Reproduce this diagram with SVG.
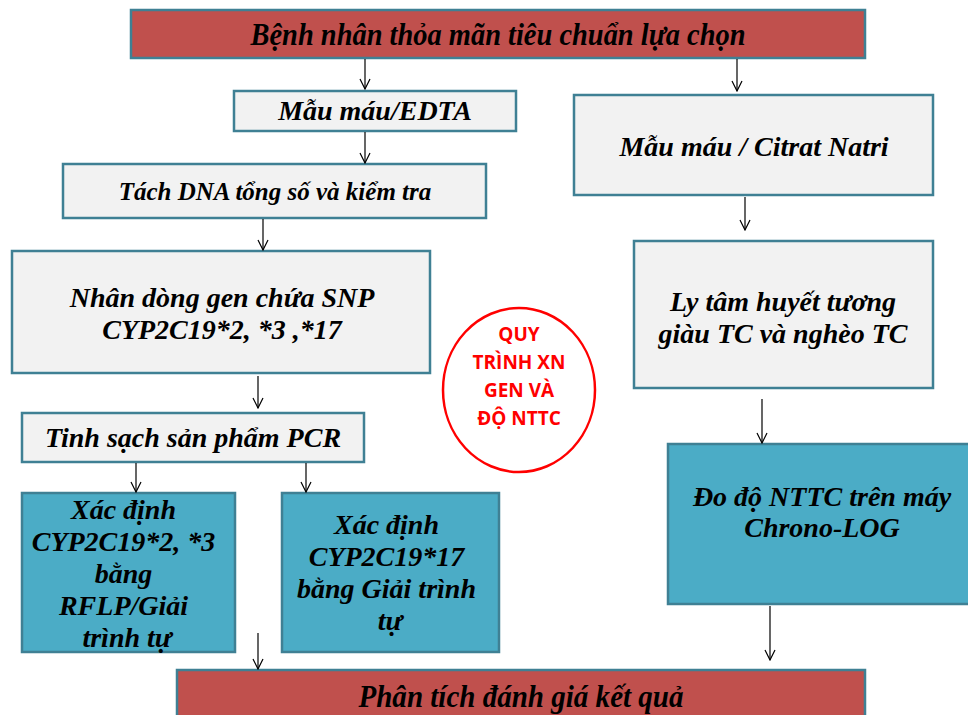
<svg xmlns="http://www.w3.org/2000/svg" width="968" height="715" viewBox="0 0 968 715">
  <defs>
    <marker id="arr" viewBox="0 0 12 12" refX="11" refY="6" markerWidth="12" markerHeight="12" markerUnits="userSpaceOnUse" orient="auto">
      <path d="M1,1 L11,6 L1,11" fill="none" stroke="#000" stroke-width="1.2"/>
    </marker>
    <style>
      .red { fill: #C0504D; stroke: #3F8094; stroke-width: 2.5; }
      .grey { fill: #F2F2F2; stroke: #3F8094; stroke-width: 2.5; }
      .teal { fill: #4BACC6; stroke: #3F8094; stroke-width: 2.5; }
      .t { fill: #000; text-anchor: middle; }
      .c { fill: #FF0000; text-anchor: middle; }
      .con line { stroke: #000; stroke-width: 1.2; marker-end: url(#arr); }
    </style>
  </defs>
  <rect width="968" height="715" fill="#FFFFFF"/>

  <!-- process boxes: bold italic serif labels -->
  <g font-family="Liberation Serif, Times New Roman, serif" font-weight="bold" font-style="italic" font-size="28">

    <g id="n-patients">
      <rect class="red" x="131" y="10" width="734" height="48"/>
      <text class="t" x="498" y="45" font-size="32" textLength="495" lengthAdjust="spacingAndGlyphs">Bệnh nhân thỏa mãn tiêu chuẩn lựa chọn</text>
    </g>

    <g id="n-edta">
      <rect class="grey" x="234" y="91" width="282" height="40"/>
      <text class="t" x="375" y="120">Mẫu máu/EDTA</text>
    </g>

    <g id="n-dna">
      <rect class="grey" x="63" y="164" width="423" height="54"/>
      <text class="t" x="275" y="200" font-size="25">Tách DNA tổng số và kiểm tra</text>
    </g>

    <g id="n-clone">
      <rect class="grey" x="12" y="251" width="418" height="122"/>
      <text class="t" x="222" y="307">Nhân dòng gen chứa SNP</text>
      <text class="t" x="222" y="339">CYP2C19*2, *3 ,*17</text>
    </g>

    <g id="n-pcr">
      <rect class="grey" x="22" y="413" width="342" height="49"/>
      <text class="t" x="193" y="447">Tinh sạch sản phẩm PCR</text>
    </g>

    <g id="n-rflp">
      <rect class="teal" x="22" y="493" width="213" height="159"/>
      <text class="t">
        <tspan x="127" y="519">Xác định</tspan>
        <tspan x="127" y="551">CYP2C19*2, *3</tspan>
        <tspan x="127" y="583">bằng</tspan>
        <tspan x="127" y="615">RFLP/Giải</tspan>
        <tspan x="127" y="647">trình tự</tspan>
      </text>
    </g>

    <g id="n-seq">
      <rect class="teal" x="282" y="493" width="217" height="159"/>
      <text class="t">
        <tspan x="390" y="534">Xác định</tspan>
        <tspan x="390" y="566">CYP2C19*17</tspan>
        <tspan x="390" y="598">bằng Giải trình</tspan>
        <tspan x="390" y="630">tự</tspan>
      </text>
    </g>

    <g id="n-result">
      <rect class="red" x="177" y="670" width="688" height="60"/>
      <text class="t" x="521" y="707" font-size="32" textLength="325" lengthAdjust="spacingAndGlyphs">Phân tích đánh giá kết quả</text>
    </g>

    <g id="n-citrat">
      <rect class="grey" x="574" y="95" width="359" height="100"/>
      <text class="t" x="754" y="156">Mẫu máu / Citrat Natri</text>
    </g>

    <g id="n-centrifuge">
      <rect class="grey" x="634" y="241" width="299" height="147"/>
      <text class="t" x="783" y="311">Ly tâm huyết tương</text>
      <text class="t" x="783" y="343">giàu TC và nghèo TC</text>
    </g>

    <g id="n-chrono">
      <rect class="teal" x="668" y="444" width="310" height="160"/>
      <text class="t" x="822" y="506">Đo độ NTTC trên máy</text>
      <text class="t" x="822" y="537">Chrono-LOG</text>
    </g>
  </g>

  <!-- red circled title -->
  <g id="n-title" font-family="Open Sans, Liberation Sans, sans-serif" font-weight="bold" font-size="19">
    <ellipse cx="519" cy="390" rx="76" ry="82" fill="#FFFFFF" stroke="#FF0000" stroke-width="2.5"/>
    <text class="c" x="519" y="341">QUY</text>
    <text class="c" x="519" y="369">TRÌNH XN</text>
    <text class="c" x="519" y="397">GEN VÀ</text>
    <text class="c" x="519" y="425">ĐỘ NTTC</text>
  </g>

  <g id="connectors" class="con">
    <line x1="365" y1="59" x2="365" y2="89"/>
    <line x1="737" y1="59" x2="737" y2="91"/>
    <line x1="365" y1="132" x2="365" y2="163"/>
    <line x1="263" y1="219" x2="263" y2="250"/>
    <line x1="745" y1="197" x2="745" y2="230"/>
    <line x1="258" y1="376" x2="258" y2="408"/>
    <line x1="136" y1="463" x2="136" y2="492"/>
    <line x1="306" y1="463" x2="306" y2="492"/>
    <line x1="762" y1="399" x2="762" y2="443"/>
    <line x1="258" y1="633" x2="258" y2="669"/>
    <line x1="770" y1="606" x2="770" y2="660"/>
  </g>
</svg>
